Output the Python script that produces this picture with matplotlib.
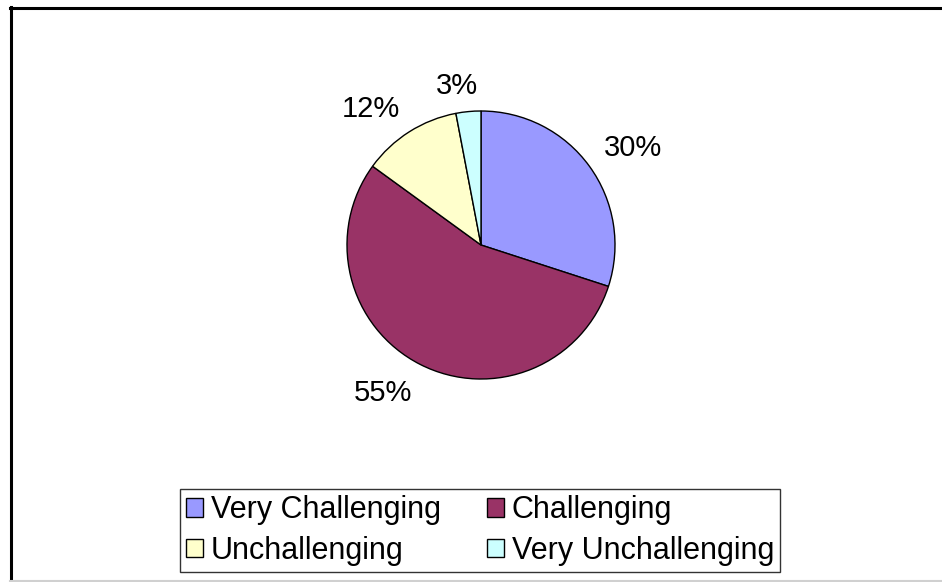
import numpy as np
import matplotlib
matplotlib.use("Agg")
import matplotlib.pyplot as plt
from matplotlib.patches import Patch
from matplotlib.lines import Line2D

plt.rcParams['font.family'] = ['Liberation Sans', 'DejaVu Sans']

categories = ["Very Challenging", "Challenging", "Unchallenging", "Very Unchallenging"]
values = [30, 55, 12, 3]
colors = ["#9999FF", "#993366", "#FFFFCC", "#CCFFFF"]

W, H = 942, 582
fig = plt.figure(figsize=(W / 100, H / 100), dpi=100)
fig.patch.set_facecolor("white")

cx, cy, r = 481, 245, 134
ax = fig.add_axes([(cx - r) / W, (H - cy - r) / H, 2 * r / W, 2 * r / H])
wedges, _ = ax.pie(
    values, colors=colors, startangle=90, counterclock=False,
    wedgeprops=dict(edgecolor="black", linewidth=1.0))
ax.set_xlim(-1, 1)
ax.set_ylim(-1, 1)
ax.set_aspect("auto")
ax.axis("off")

# percentage labels placed just outside each wedge (Excel-like)
label_fs = 21
fig.canvas.draw()
renderer = fig.canvas.get_renderer()
px_per_unit = r  # data unit -> pixels
digit_h = 0.716 * label_fs * 100 / 72
d = 1.13
for w, v in zip(wedges, values):
    theta = np.deg2rad((w.theta1 + w.theta2) / 2)
    c, s = np.cos(theta), np.sin(theta)
    t = ax.text(0, 0, f"{v}%", fontsize=label_fs, ha="center", va="baseline",
                clip_on=False)
    bb = t.get_window_extent(renderer)
    fx = np.clip(c * 5, -1, 1)
    fy = np.clip(s * 5, -1, 1)
    x = d * c + (bb.width / 2 * fx) / px_per_unit
    y = d * s + (digit_h / 2 * fy) / px_per_unit - (digit_h / 2) / px_per_unit
    t.set_position((x, y))

order = [0, 2, 1, 3]
handles = [Patch(facecolor=colors[i], edgecolor="black", linewidth=1.0) for i in order]
labels = [categories[i] for i in order]
leg = fig.legend(handles, labels, ncol=2, loc="center",
                 bbox_to_anchor=(480 / W, 1 - 530.5 / H),
                 fontsize=22, frameon=True, fancybox=False,
                 handlelength=0.56, handleheight=0.56, handletextpad=0.26,
                 columnspacing=1.5, labelspacing=0.34, borderpad=0.2,
                 borderaxespad=0)
leg.get_frame().set_edgecolor("black")
leg.get_frame().set_linewidth(1.0)

# outer chart frame
fig.add_artist(Line2D([10 / W, 1], [1 - 7.5 / H, 1 - 7.5 / H], color="black", lw=2.2, transform=fig.transFigure))
fig.add_artist(Line2D([10.5 / W, 10.5 / W], [1 - 7 / H, 1 - 580 / H], color="black", lw=2.2, transform=fig.transFigure))
fig.add_artist(Line2D([10 / W, 1], [1 - 580.5 / H, 1 - 580.5 / H], color="#d0d0d0", lw=1.5, transform=fig.transFigure))

fig.savefig("out.png", dpi=100)
